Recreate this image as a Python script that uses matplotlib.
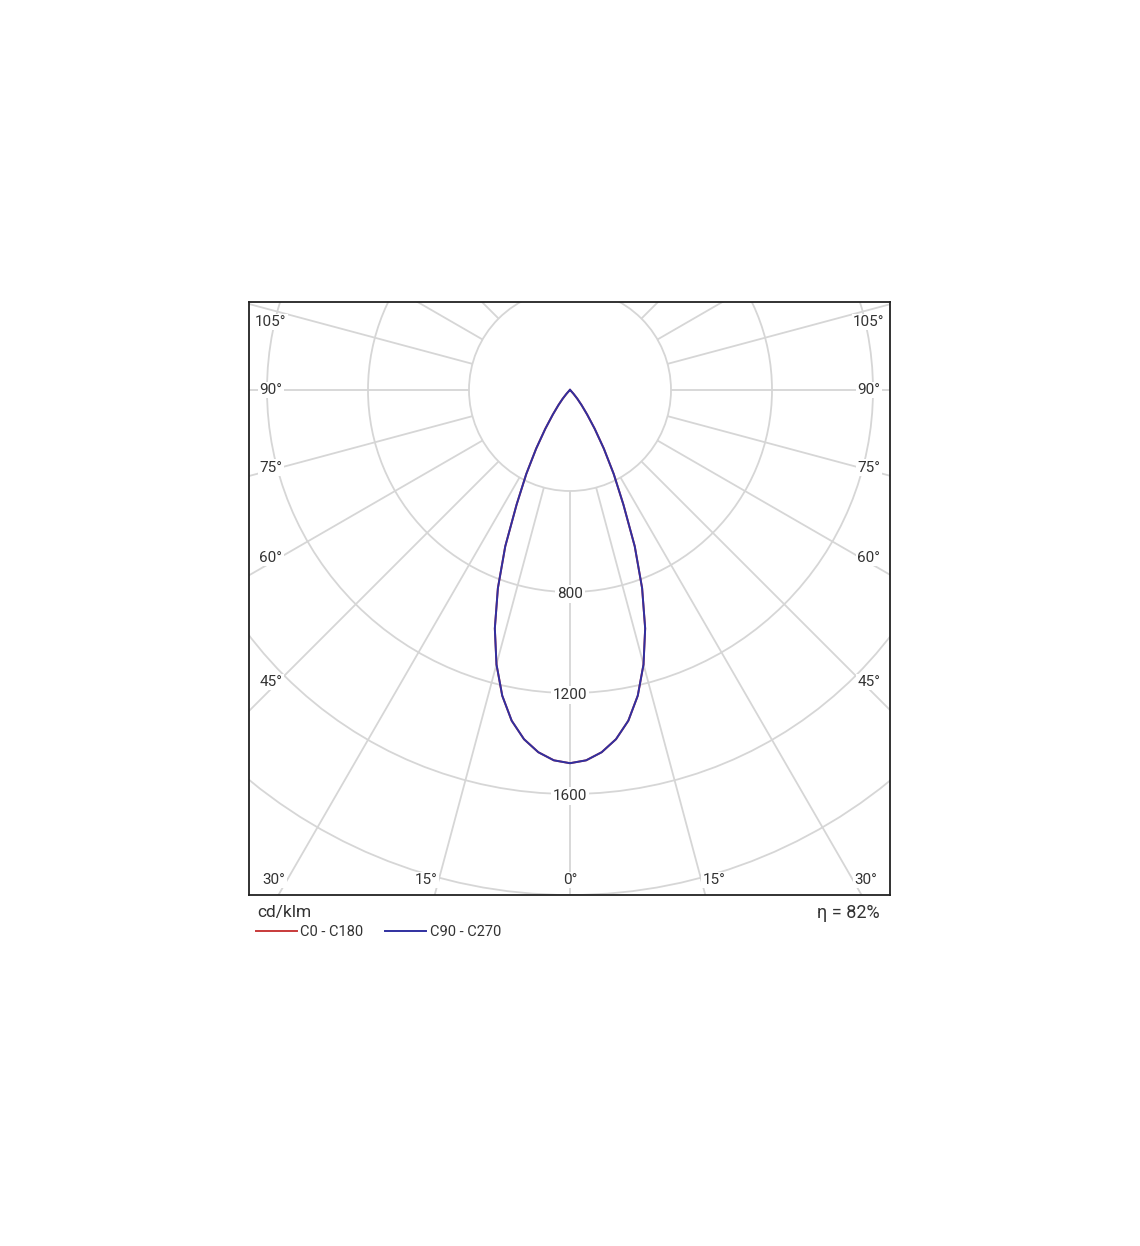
import numpy as np
import matplotlib
matplotlib.use("Agg")
import matplotlib.pyplot as plt
from matplotlib.lines import Line2D
from matplotlib.patches import Circle

# ---------------- data (cd/klm) ----------------
gamma_deg = [0, 2.5, 5, 7.5, 10, 12.5, 15, 17.5, 20, 22.5, 25, 27.5, 30,
             32.5, 35, 37.5, 40, 42.5, 45, 47.5, 50, 60, 70, 80, 90]
c0_c180 = [1478, 1468, 1440, 1395, 1330, 1240, 1125, 990, 835, 670, 500, 375, 268,
           182, 118, 75, 45, 22, 9, 2, 0, 0, 0, 0, 0]
c90_c270 = [1478, 1468, 1440, 1395, 1330, 1240, 1125, 990, 835, 670, 500, 375, 268,
            182, 118, 75, 45, 22, 9, 2, 0, 0, 0, 0, 0]
ring_values = [400, 800, 1200, 1600, 2000, 2400]
ring_labels = [800, 1200, 1600]
spoke_angles = list(range(0, 360, 15))
angle_labels = [0, 15, 30, 45, 60, 75, 90, 105]
series_names = ["C0 - C180", "C90 - C270"]
series_colors = ["#c83a3a", "#3030a0"]
unit_text = "cd/klm"
eta_text = "\u03b7 = 82%"

# ---------------- layout ----------------
W, H = 1140, 1246
FONT = ["Roboto", "DejaVu Sans"]
TXT = "#333333"
GRID = "#d6d6d6"
plt.rcParams["font.family"] = FONT

fig = plt.figure(figsize=(W / 100, H / 100), dpi=100)
fig.patch.set_facecolor("white")
ax = fig.add_axes([249 / W, 1 - 895 / H, 641 / W, 593 / H])

S = 400 / 101.0  # cd per pixel
LEFT_PX, RIGHT_PX, TOP_PX, BOT_PX = 321, 320, 88, 505
ax.set_xlim(-LEFT_PX * S, RIGHT_PX * S)
ax.set_ylim(-BOT_PX * S, TOP_PX * S)
ax.set_xticks([])
ax.set_yticks([])
for sp in ax.spines.values():
    sp.set_color("#222222")
    sp.set_linewidth(1.3)
    sp.set_zorder(10)

# grid circles
for r in ring_values:
    ax.add_patch(Circle((0, 0), r, fill=False, edgecolor=GRID, linewidth=1.3, zorder=1))

# spokes (start at the first ring)
r0, r1 = ring_values[0], 4000
for a in spoke_angles:
    t = np.deg2rad(a)
    ax.plot([r0 * np.sin(t), r1 * np.sin(t)], [-r0 * np.cos(t), -r1 * np.cos(t)],
            color=GRID, linewidth=1.3, zorder=1, solid_capstyle="butt")

# ring labels
for v in ring_labels:
    ax.text(0, -v - 2 * S, str(v), ha="center", va="center", fontsize=11, color=TXT, zorder=5,
            bbox=dict(facecolor="white", edgecolor="none", pad=1.5))

# angle labels
for a in angle_labels:
    t = np.deg2rad(a)
    for side in ([1] if a == 0 else [-1, 1]):
        sx, cy = np.sin(t), -np.cos(t)
        t_side = (RIGHT_PX if side > 0 else LEFT_PX) / sx if sx > 1e-9 else np.inf
        t_bot = BOT_PX / -cy if cy < -1e-9 else np.inf
        if t_bot < t_side:
            ypx = -(BOT_PX - 15)
            xpx = ypx / cy * sx
            xpx = side * (xpx + 13 * (1 if a > 0 else 0))
        else:
            xpx = 299
            ypx = xpx / sx * cy + 10 * np.cos(t)
            ypx = min(ypx, TOP_PX - 20)
            xpx = side * xpx
        ax.text(xpx * S, ypx * S, f"{a}\u00b0", ha="center", va="center", fontsize=11,
                color=TXT, zorder=5, bbox=dict(facecolor="white", edgecolor="none", pad=1.0))

# curves
for vals, col in zip([c0_c180, c90_c270], series_colors):
    g = np.deg2rad(np.array(gamma_deg))
    I = np.array(vals, dtype=float)
    gg = np.concatenate([-g[::-1], g[1:]])
    II = np.concatenate([I[::-1], I[1:]])
    ax.plot(II * np.sin(gg), -II * np.cos(gg), color=col, linewidth=1.4, zorder=6,
            solid_joinstyle="round")

# texts below chart
fig.text(257 / W, 1 - 913 / H, unit_text, ha="left", va="center", fontsize=12.5, color=TXT)
fig.text(880 / W, 1 - 913 / H, eta_text, ha="right", va="center", fontsize=13, color=TXT)

legend_x = [(256, 297, 300), (385, 426, 430)]
for (x0, x1, xt), name, col in zip(legend_x, series_names, series_colors):
    fig.add_artist(Line2D([x0 / W, x1 / W], [1 - 931 / H, 1 - 931 / H],
                          transform=fig.transFigure, color=col, linewidth=1.4))
    fig.text(xt / W, 1 - 932 / H, name, ha="left", va="center", fontsize=10.5, color=TXT)

fig.savefig("out.png", dpi=100, facecolor="white")
